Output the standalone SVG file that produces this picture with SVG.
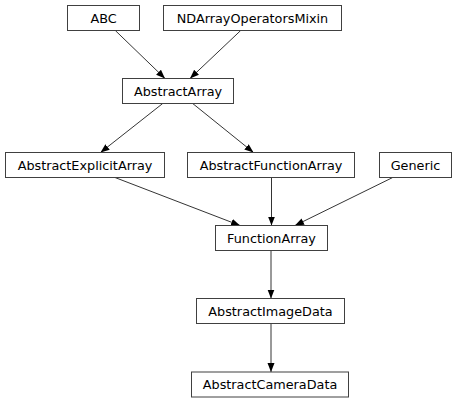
<svg xmlns="http://www.w3.org/2000/svg" width="457" height="403" viewBox="0 0 457 403">
<style>
.n rect{fill:#ffffff;stroke:#404040;stroke-width:1}
.n text{font-family:"DejaVu Sans",sans-serif;font-size:12.8px;fill:#000;text-anchor:middle}
.e line{stroke:#000;stroke-width:0.8}
</style>
<defs>
<marker id="ah" markerUnits="userSpaceOnUse" markerWidth="10" markerHeight="8" refX="9" refY="3.5" orient="auto" viewBox="0 0 10 7">
<path d="M0,0 L9,3.5 L0,7 Z" fill="#000"/>
</marker>
</defs>
<rect width="457" height="403" fill="#fff"/>
<g id="edges" class="e">
<line x1="115.3" y1="30.5" x2="165" y2="78.5" marker-end="url(#ah)"/>
<line x1="240.7" y1="30.5" x2="190" y2="78.5" marker-end="url(#ah)"/>
<line x1="162.7" y1="103.5" x2="100.5" y2="152.5" marker-end="url(#ah)"/>
<line x1="192.7" y1="103.5" x2="253.5" y2="152.5" marker-end="url(#ah)"/>
<line x1="115" y1="177.5" x2="240" y2="225.5" marker-end="url(#ah)"/>
<line x1="271.5" y1="177.5" x2="271.5" y2="225.5" marker-end="url(#ah)"/>
<line x1="392.7" y1="177.5" x2="295" y2="225.5" marker-end="url(#ah)"/>
<line x1="271" y1="250.5" x2="271" y2="298.5" marker-end="url(#ah)"/>
<line x1="271" y1="323.5" x2="271" y2="372" marker-end="url(#ah)"/>
</g>
<g id="ABC" class="n"><rect x="67.5" y="5.5" width="72" height="25"/><text x="103.5" y="22.5">ABC</text></g>
<g id="NDArrayOperatorsMixin" class="n"><rect x="163.5" y="5.5" width="178" height="25"/><text x="252.5" y="22.5">NDArrayOperatorsMixin</text></g>
<g id="AbstractArray" class="n"><rect x="122.5" y="78.5" width="111" height="25"/><text x="178" y="95.5">AbstractArray</text></g>
<g id="AbstractExplicitArray" class="n"><rect x="5.5" y="152.5" width="159" height="25"/><text x="85" y="169.5">AbstractExplicitArray</text></g>
<g id="AbstractFunctionArray" class="n"><rect x="187.5" y="152.5" width="167" height="25"/><text x="271" y="169.5">AbstractFunctionArray</text></g>
<g id="Generic" class="n"><rect x="379.5" y="152.5" width="72" height="25"/><text x="415.5" y="169.5">Generic</text></g>
<g id="FunctionArray" class="n"><rect x="215.5" y="225.5" width="112" height="25"/><text x="271.5" y="242.5">FunctionArray</text></g>
<g id="AbstractImageData" class="n"><rect x="196.5" y="298.5" width="148" height="25"/><text x="270.5" y="315.5">AbstractImageData</text></g>
<g id="AbstractCameraData" class="n"><rect x="191.5" y="372" width="157" height="25"/><text x="270" y="389">AbstractCameraData</text></g>
</svg>
